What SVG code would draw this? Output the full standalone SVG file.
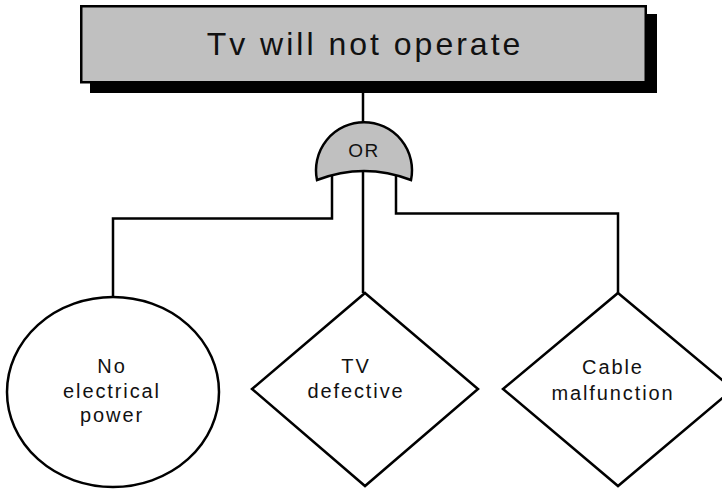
<svg xmlns="http://www.w3.org/2000/svg" width="722" height="489" viewBox="0 0 722 489">
  <style>
    .edge { fill: none; stroke: #000; stroke-width: 2.5; }
    .shape { fill: #fff; stroke: #000; stroke-width: 2.5; }
    .gray { fill: #c0c0c0; stroke: #000; stroke-width: 2.5; }
    text { font-family: "Liberation Sans", Arial, sans-serif; fill: #111; text-anchor: middle; }
    .title { font-size: 32px; letter-spacing: 3px; }
    .gate-label { font-size: 19px; letter-spacing: 1.5px; }
    .label { font-size: 20px; letter-spacing: 1.9px; }
  </style>
  <rect width="722" height="489" fill="#fff"/>

  <!-- connectors -->
  <g id="connectors">
    <path class="edge" d="M363,82 V125"/>
    <path class="edge" d="M332,176 V218.5 H113 V297"/>
    <path class="edge" d="M363,171 V293"/>
    <path class="edge" d="M396,176 V213.5 H618 V293"/>
  </g>

  <!-- top event -->
  <g id="top-event">
    <rect x="90" y="14" width="567" height="79" fill="#000"/>
    <rect class="gray" x="81.25" y="6.25" width="564.5" height="76"/>
    <text class="title" x="365" y="55">Tv will not operate</text>
  </g>

  <!-- OR gate -->
  <g id="or-gate">
    <path class="gray" d="M317,180 A48,48 0 1 1 411,180 Q364,162 317,180 Z"/>
    <text class="gate-label" x="364" y="157">OR</text>
  </g>

  <!-- basic event -->
  <g id="no-power">
    <ellipse class="shape" cx="113" cy="392" rx="106" ry="95"/>
    <text class="label" x="112" y="373">No</text>
    <text class="label" x="112" y="398">electrical</text>
    <text class="label" x="112" y="422">power</text>
  </g>

  <!-- undeveloped events -->
  <g id="tv-defective">
    <polygon class="shape" points="365,293 478,389 365,486 252,389"/>
    <text class="label" x="356" y="373">TV</text>
    <text class="label" x="356" y="398">defective</text>
  </g>

  <g id="cable-malfunction">
    <polygon class="shape" points="618,293 733,389 618,486 503,389"/>
    <text class="label" x="613" y="374">Cable</text>
    <text class="label" x="613" y="400">malfunction</text>
  </g>
</svg>
